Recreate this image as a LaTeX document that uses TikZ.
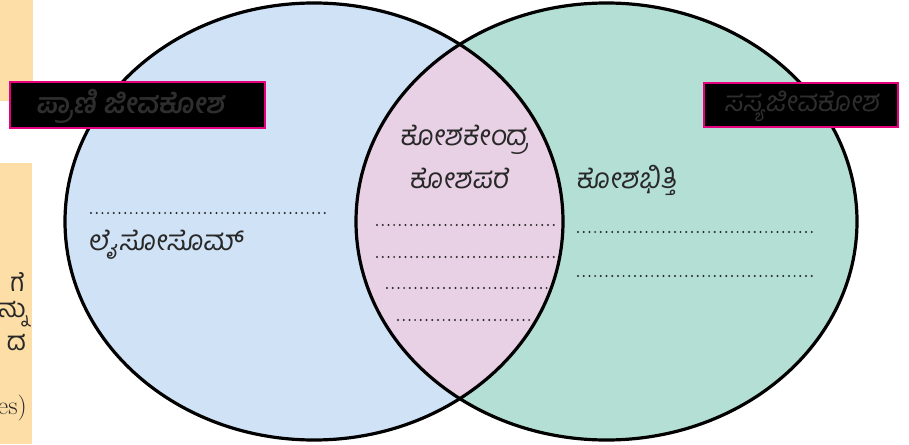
\documentclass[tikz,border=0pt]{standalone}
\usepackage{fontspec}
\newfontfamily\kn[Script=Kannada,FakeSlant=0.12]{Hind Mysuru}
\newfontfamily\knup[Script=Kannada]{Hind Mysuru}
\definecolor{leftblue}{RGB}{208,226,245}
\definecolor{rightgreen}{RGB}{180,223,213}
\definecolor{lenspink}{RGB}{232,208,229}
\definecolor{magentaedge}{RGB}{230,0,126}
\definecolor{beige}{RGB}{253,222,166}
\definecolor{inkgray}{RGB}{40,40,40}
\definecolor{dimink}{RGB}{46,46,46}
\tikzset{
  vennline/.style={line width=3.2pt,black},
  dotline/.style={inkgray,line width=2.2pt,line cap=round,dash pattern=on 0pt off 5.7pt},
  tagbox/.style={fill=black,draw=magentaedge,line width=2.2pt,inner sep=0pt},
  ktext/.style={inkgray,font=\kn\fontsize{28}{30}\selectfont,inner sep=0pt},
  sidetext/.style={inkgray,font=\knup\fontsize{26}{28}\selectfont,inner sep=0pt,anchor=east}
}
\begin{document}
\begin{tikzpicture}[x=1pt,y=-1pt]
\useasboundingbox (0,0) rectangle (909,444);
% page fragments on the left
\fill[beige] (0,0) rectangle (33,101);
\fill[beige] (0,163) rectangle (32,444);
\node[sidetext] (f1) at (25,282) {ಗೆ};
\node[sidetext] (f2) at (28,314) {ನ್ನು};
\node[sidetext] (f3) at (26,343) {ದ};
\node[inkgray,anchor=east,inner sep=0pt,font=\fontsize{26}{28}\selectfont] (f4) at (27,408) {es)};
% circles
\fill[leftblue] (314,221.5) ellipse [x radius=249,y radius=218.5];
\fill[rightgreen] (606.5,221.5) ellipse [x radius=250.5,y radius=218.5];
\begin{scope}
\clip (314,221.5) ellipse [x radius=249,y radius=218.5];
\fill[lenspink] (606.5,221.5) ellipse [x radius=250.5,y radius=218.5];
\end{scope}
\draw[vennline] (314,221.5) ellipse [x radius=249,y radius=218.5];
\draw[vennline] (606.5,221.5) ellipse [x radius=250.5,y radius=218.5];
% tag boxes
\node[tagbox,minimum width=255pt,minimum height=46pt] (animal) at (137.5,105) {};
\node[font=\kn\bfseries\fontsize{28}{30}\selectfont,dimink,anchor=west,inner sep=0pt] (animaltxt) at (36,106) {ಪ್ರಾಣಿ ಜೀವಕೋಶ};
\node[tagbox,minimum width=194pt,minimum height=44pt] (plant) at (801,105) {};
\node[font=\kn\fontsize{28}{30}\selectfont,dimink,anchor=west,inner sep=0pt] (planttxt) at (724,106) {ಸಸ್ಯಜೀವಕೋಶ};
% centre texts
\node[ktext] (nucleus) at (464,140) {ಕೋಶಕೇಂದ್ರ};
\node[ktext] (membrane) at (459,178) {ಕೋಶಪರೆ};
\coordinate (c1a) at (377,225); \coordinate (c1b) at (558,225);
\coordinate (c2a) at (377,257); \coordinate (c2b) at (558,257);
\coordinate (c3a) at (387,288); \coordinate (c3b) at (548,288);
\coordinate (c4a) at (398,320); \coordinate (c4b) at (530,320);
\draw[dotline] (c1a) -- (c1b);
\draw[dotline] (c2a) -- (c2b);
\draw[dotline] (c3a) -- (c3b);
\draw[dotline] (c4a) -- (c4b);
% left texts
\coordinate (l1a) at (91,213); \coordinate (l1b) at (327,213);
\draw[dotline] (l1a) -- (l1b);
\node[ktext,anchor=west] (lyso) at (88,245) {ಲೈಸೋಸೊಮ್};
% right texts
\node[ktext,anchor=west] (wall) at (576,180) {ಕೋಶಭಿತ್ತಿ};
\coordinate (r1a) at (578,232); \coordinate (r1b) at (815,232);
\coordinate (r2a) at (578,276); \coordinate (r2b) at (815,276);
\draw[dotline] (r1a) -- (r1b);
\draw[dotline] (r2a) -- (r2b);
\end{tikzpicture}
\end{document}
